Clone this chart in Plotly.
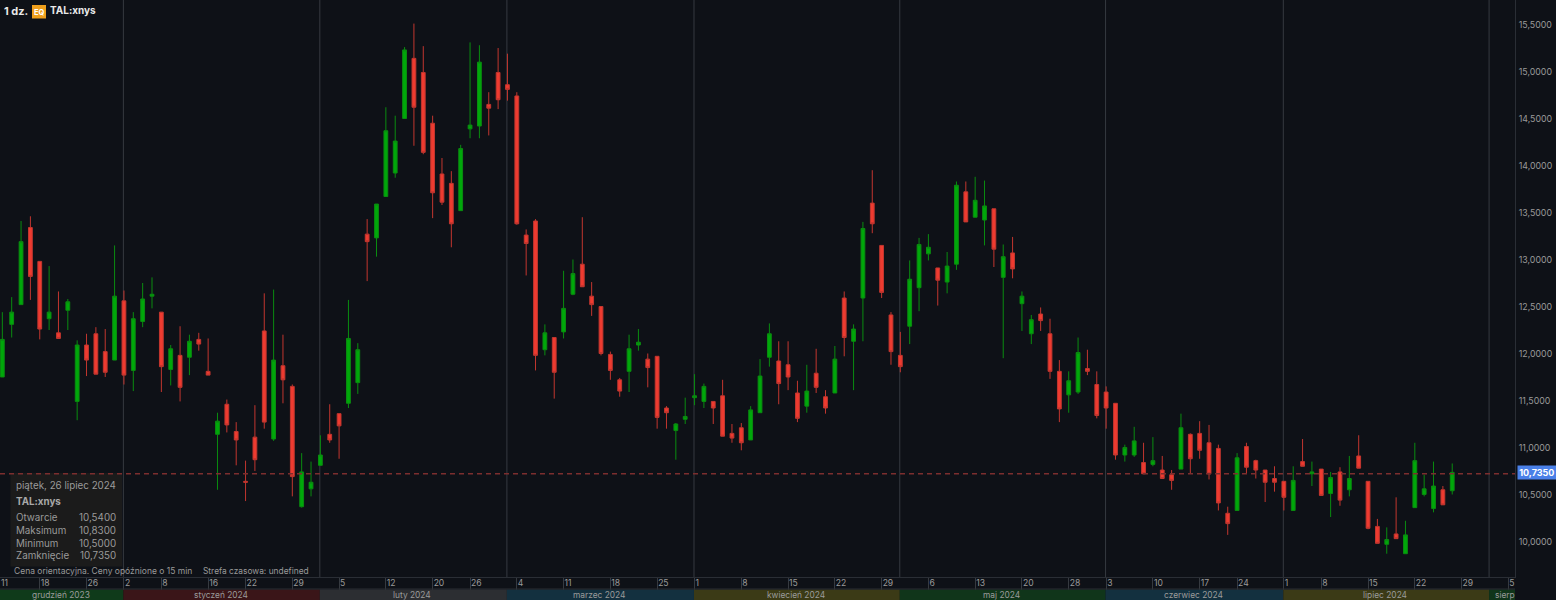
import plotly.graph_objects as go

trading_days = {
    "2023-12": [12,13,14,15,18,19,20,21,22,26,27,28,29],
    "2024-01": [2,3,4,5,8,9,10,11,12,16,17,18,19,22,23,24,25,26,29,30,31],
    "2024-02": [1,2,5,6,7,8,9,12,13,14,15,16,20,21,22,23,26,27,28,29],
    "2024-03": [1,4,5,6,7,8,11,12,13,14,15,18,19,20,21,22,25,26,27,28],
    "2024-04": [1,2,3,4,5,8,9,10,11,12,15,16,17,18,19,22,23,24,25,26,29,30],
    "2024-05": [1,2,3,6,7,8,9,10,13,14,15,16,17,20,21,22,23,24,28,29,30,31],
    "2024-06": [3,4,5,6,7,10,11,12,13,14,17,18,20,21,24,25,26,27,28],
    "2024-07": [1,2,3,5,8,9,10,11,12,15,16,17,18,19,22,23,24,25,26],
}
future_days = ["2024-07-29","2024-07-30","2024-07-31","2024-08-01","2024-08-02","2024-08-05","2024-08-06","2024-08-07"]

opens = [
11.75,12.31,12.52,13.34,12.98,12.37,12.22,12.46,11.49,12.09,
12.21,12.02,11.93,12.56,11.82,12.34,12.61,12.44,11.83,11.98,
11.96,12.15,11.81,11.14,11.46,11.17,10.64,11.11,12.24,11.09,
11.87,11.65,10.37,10.56,10.81,11.14,11.36,11.47,11.69,13.27,
13.23,13.67,13.92,14.50,15.14,14.99,14.45,13.91,13.81,13.52,
14.39,14.42,14.65,14.99,14.86,14.74,13.26,13.41,12.04,12.17,
12.23,12.63,12.95,12.61,12.50,11.99,11.72,11.81,12.09,11.94,
11.97,11.42,11.18,11.30,11.53,11.49,11.49,11.55,11.15,11.21,
11.08,11.37,11.96,11.92,11.88,11.58,11.44,11.79,11.54,11.58,
12.59,12.13,12.59,13.60,13.15,12.41,11.98,12.29,12.70,13.06,
12.91,12.76,12.95,13.72,13.45,13.42,13.54,12.81,13.07,12.53,
12.21,12.42,12.21,11.81,11.56,11.59,11.84,11.67,11.59,11.47,
10.92,10.92,10.84,10.82,10.76,10.71,10.77,11.14,11.15,11.05,
10.99,10.30,10.33,11.01,10.86,10.76,10.67,10.64,10.33,10.85,
10.72,10.77,10.51,10.74,10.55,10.91,10.64,10.16,9.97,10.08,
9.87,10.36,10.50,10.35,10.55,10.54]
highs = [
12.44,12.60,13.41,13.46,12.98,12.93,12.66,12.58,12.14,12.21,
12.28,12.26,13.15,12.67,12.44,12.75,12.81,12.44,12.09,12.29,
12.20,12.22,12.16,11.37,11.51,11.27,10.86,11.45,12.64,12.68,
12.20,11.67,10.94,10.85,11.13,11.46,11.36,12.57,12.11,13.43,
13.59,14.62,14.53,15.26,15.51,15.27,14.53,14.08,13.94,14.22,
15.31,15.28,14.78,15.25,15.19,14.78,13.32,13.43,12.31,12.17,
12.88,13.00,13.45,12.76,12.50,12.02,11.74,12.20,12.26,12.00,
11.97,11.44,11.26,11.53,11.78,11.68,11.49,11.72,11.25,11.26,
11.44,11.94,12.32,12.13,12.13,11.71,11.88,12.05,11.61,12.08,
12.66,12.31,13.40,13.95,13.15,12.44,12.23,12.99,13.23,13.27,
12.91,13.08,13.83,13.83,13.88,13.84,13.54,13.16,13.24,12.66,
12.41,12.49,12.37,11.93,11.81,12.17,12.04,11.81,11.65,11.47,
11.03,11.22,11.05,11.11,10.91,10.76,11.36,11.15,11.28,11.24,
11.03,10.37,10.94,11.05,10.87,10.76,10.80,10.64,10.80,11.09,
10.85,10.77,10.74,10.79,10.91,11.13,10.64,10.24,10.15,10.47,
10.22,11.05,10.71,10.85,10.59,10.83]
lows = [
11.75,12.17,12.52,12.57,12.15,12.25,12.16,12.25,11.29,11.76,
11.78,11.75,11.93,11.67,11.60,12.28,12.48,11.59,11.66,11.49,
11.77,12.03,11.77,10.55,11.16,10.81,10.43,10.75,11.20,11.07,
11.47,10.48,10.36,10.48,10.81,11.05,10.88,11.42,11.57,12.77,
13.03,13.67,13.87,14.50,14.21,14.12,13.44,13.58,13.13,13.52,
14.29,14.29,14.32,14.60,14.69,13.37,12.83,11.82,11.98,11.52,
12.16,12.62,12.71,12.40,11.98,11.72,11.54,11.59,12.03,11.64,
11.20,11.20,10.87,11.25,11.45,11.42,11.25,11.12,11.05,10.97,
11.08,11.37,11.86,11.46,11.61,11.27,11.37,11.58,11.36,11.58,
11.97,11.61,12.13,13.28,12.59,11.88,11.80,12.10,12.45,12.99,
12.51,12.64,12.89,13.40,13.45,13.15,12.92,11.95,12.80,12.24,
12.10,12.24,11.73,11.27,11.37,11.57,11.77,11.31,11.20,10.87,
10.85,10.90,10.72,10.80,10.67,10.55,10.77,10.72,10.88,10.66,
10.33,10.07,10.33,10.72,10.67,10.42,10.53,10.33,10.33,10.80,
10.59,10.49,10.26,10.38,10.48,10.78,10.13,9.98,9.87,10.03,
9.87,10.36,10.48,10.31,10.39,10.50]
closes = [
12.15,12.44,13.19,12.82,12.26,12.44,12.16,12.55,12.09,11.93,
11.78,11.80,12.61,11.77,12.37,12.58,12.63,11.86,12.05,11.64,
12.13,12.10,11.77,11.28,11.24,11.08,10.63,10.87,11.27,11.93,
11.72,10.69,10.74,10.63,10.92,11.08,11.23,12.16,12.04,13.19,
13.59,14.37,14.26,15.23,14.62,14.14,13.71,13.61,13.38,14.18,
14.43,15.10,14.61,14.70,14.81,13.38,13.17,11.98,12.22,11.80,
12.48,12.85,12.71,12.52,12.00,11.82,11.60,12.05,12.12,11.85,
11.32,11.37,11.25,11.33,11.55,11.65,11.42,11.12,11.10,11.05,
11.40,11.76,12.21,11.68,11.75,11.31,11.60,11.64,11.42,11.94,
12.17,12.26,13.33,13.38,12.65,12.02,11.86,12.79,13.16,13.13,
12.78,12.93,13.79,13.40,13.63,13.57,13.11,13.03,12.90,12.61,
12.36,12.35,11.81,11.41,11.71,12.01,11.81,11.34,11.42,10.92,
11.00,11.07,10.72,10.86,10.67,10.65,11.21,10.88,10.97,10.72,
10.41,10.19,10.89,10.79,10.76,10.63,10.63,10.47,10.65,10.80,
10.74,10.49,10.68,10.44,10.67,10.78,10.14,9.98,10.02,10.03,
10.07,10.86,10.56,10.59,10.39,10.735]

tick_dates = ["2023-12-18","2023-12-26","2024-01-02","2024-01-08","2024-01-16","2024-01-22","2024-01-29",
              "2024-02-05","2024-02-12","2024-02-20","2024-02-26","2024-03-04","2024-03-11","2024-03-18","2024-03-25",
              "2024-04-01","2024-04-08","2024-04-15","2024-04-22","2024-04-29","2024-05-06","2024-05-13","2024-05-20","2024-05-28",
              "2024-06-03","2024-06-10","2024-06-17","2024-06-24","2024-07-01","2024-07-08","2024-07-15","2024-07-22","2024-07-29","2024-08-05"]
tick_labels = ["18","26","2","8","16","22","29","5","12","20","26","4","11","18","25","1","8","15","22","29",
               "6","13","20","28","3","10","17","24","1","8","15","22","29","5"]
y_ticks = [10.0,10.5,11.0,11.5,12.0,12.5,13.0,13.5,14.0,14.5,15.0,15.5]

month_names = ["grudzień 2023","styczeń 2024","luty 2024","marzec 2024","kwiecień 2024","maj 2024","czerwiec 2024","lipiec 2024","sierp"]
month_starts = ["2023-12-12","2024-01-02","2024-02-01","2024-03-01","2024-04-01","2024-05-01","2024-06-03","2024-07-01","2024-08-01"]
month_fills = ["#0f3a1a","#3a1518","#2c2e32","#13303f","#3b3a16","#10351a","#13303f","#3b3a16","#10351a"]

tooltip_title = "piątek, 26 lipiec 2024"
tooltip_rows = [("Otwarcie","10,5400"),("Maksimum","10,8300"),("Minimum","10,5000"),("Zamknięcie","10,7350")]

BG = "#0e1117"; GRID = "#363a40"; AXIS = "#2a2e35"; TXT = "#9a9a9a"; FONT = "Inter"
W, H, PW, PH = 1556, 600, 1515, 577
RANGE = [-0.25, 161.71]

dates = [f"{m}-{d:02d}" for m, days in trading_days.items() for d in days]
categories = dates + future_days
pos = {d: i for i, d in enumerate(categories)}

def px(x): return x / PW
def py(y): return (PH - y) / PH

fig = go.Figure(go.Candlestick(
    x=dates, open=opens, high=highs, low=lows, close=closes,
    increasing=dict(fillcolor="#00a80a", line=dict(color="#0a8c10", width=1)),
    decreasing=dict(fillcolor="#ee3b30", line=dict(color="#c2362f", width=1)),
    whiskerwidth=0, hoverinfo="skip", showlegend=False,
))

shapes = []
annos = []
# month separators and bands
xs = [pos[d] - 0.06 for d in month_starts] + [RANGE[1]]
xs[0] = RANGE[0]
for i, (nm, fill) in enumerate(zip(month_names, month_fills)):
    shapes.append(dict(type="rect", xref="x", yref="paper", x0=xs[i], x1=xs[i+1], y0=py(589.5), y1=py(600),
                       fillcolor=fill, line_width=0, layer="above"))
    if i > 0:
        shapes.append(dict(type="line", xref="x", yref="paper", x0=xs[i], x1=xs[i], y0=0, y1=1,
                           line=dict(color=GRID, width=1), layer="below"))
    if nm == "sierp":
        annos.append(dict(xref="x", yref="paper", x=xs[i], y=py(594.5), text=nm, showarrow=False, xanchor="left", xshift=4,
                          yanchor="middle", font=dict(family=FONT, size=8.4, color=TXT)))
    else:
        annos.append(dict(xref="x", yref="paper", x=(xs[i]+xs[i+1])/2, y=py(594.5), text=nm, showarrow=False,
                          xanchor="center", yanchor="middle", xshift=-1, font=dict(family=FONT, size=8.4, color=TXT)))
shapes.append(dict(type="line", xref="paper", yref="paper", x0=0, x1=1, y0=py(589), y1=py(589),
                   line=dict(color=AXIS, width=1), layer="above"))
# tooltip box
shapes.append(dict(type="rect", xref="paper", yref="paper", x0=px(10.5), x1=px(122), y0=py(473), y1=py(566.5),
                   fillcolor="rgba(28,28,28,0.92)", line_width=0, layer="above"))
# last price line
shapes.append(dict(type="line", xref="paper", yref="y", ysizemode="pixel", yanchor=closes[-1], x0=0, x1=1, y0=-1.3, y1=-1.3,
                   line=dict(color="#7c2e2e", width=1.5, dash="5px,4px"), layer="above"))
# instrument badge
shapes.append(dict(type="rect", xref="paper", yref="paper", x0=px(32), x1=px(46), y0=py(5), y1=py(18.5),
                   fillcolor="#ef9f1c", line_width=0, layer="above"))

def label(x, y, text, size=10, color=TXT, anchor="left", **kw):
    annos.append(dict(xref="paper", yref="paper", x=px(x), y=py(y), text=text, showarrow=False, xanchor=anchor,
                      yanchor="middle", font=dict(family=FONT, size=size, color=color), borderpad=0, **kw))

label(14.5, 485, tooltip_title, 9.8)
label(14.5, 501, "<b>TAL:xnys</b>", 9.8, "#a8a8a8")
for (nm, val), y in zip(tooltip_rows, [517, 530, 543, 555.5]):
    label(14.5, y, nm, 9.8)
    label(116.5, y, val, 9.8, anchor="right")
label(13, 571, "Cena orientacyjna. Ceny opóźnione o 15 min", 8.5)
label(202, 571, "Strefa czasowa: undefined", 8.4)
label(0, 583, "11", 8.6)
label(3, 11, "<b>1 dz.</b>", 11, "#e8e8e8")
label(39, 12, "<b>EQ</b>", 7.5, "#ffffff", anchor="center")
label(49, 11, "<b>TAL:xnys</b>", 10, "#e8e8e8")

annos.append(dict(xref="paper", yref="y", x=1.0, y=closes[-1], xanchor="left", xshift=2, text="<b>10,7350</b>", showarrow=False,
                  bgcolor="#4a80e8", borderpad=1.2, font=dict(family=FONT, size=9, color="#ffffff")))

fig.update_layout(
    width=W, height=H, autosize=False,
    margin=dict(l=0, r=W-PW, t=0, b=H-PH, pad=0),
    paper_bgcolor=BG, plot_bgcolor=BG, separators=", ",
    showlegend=False, shapes=shapes, annotations=annos, boxgap=0.42,
    font=dict(family=FONT, size=10, color=TXT),
    xaxis=dict(type="category", categoryorder="array", categoryarray=categories, range=RANGE,
               rangeslider=dict(visible=False), showgrid=False, zeroline=False, showline=True, linecolor=AXIS,
               tickmode="array", tickvals=tick_dates, ticktext=tick_labels, ticks="outside", ticklen=12, tickcolor=GRID,
               ticklabelposition="outside right", ticklabelstandoff=-2, tickangle=0,
               tickfont=dict(family=FONT, size=8.6, color=TXT)),
    yaxis=dict(side="right", range=[9.622, 15.761], showgrid=False, zeroline=False, showline=True, linecolor=AXIS,
               tickmode="array", tickvals=y_ticks, tickformat=".4f", ticks="", ticklabelstandoff=1,
               tickfont=dict(family=FONT, size=8.8, color=TXT)),
)
fig.write_html("out.html", config=dict(displayModeBar=False), post_script="document.body.style.margin='0';")
